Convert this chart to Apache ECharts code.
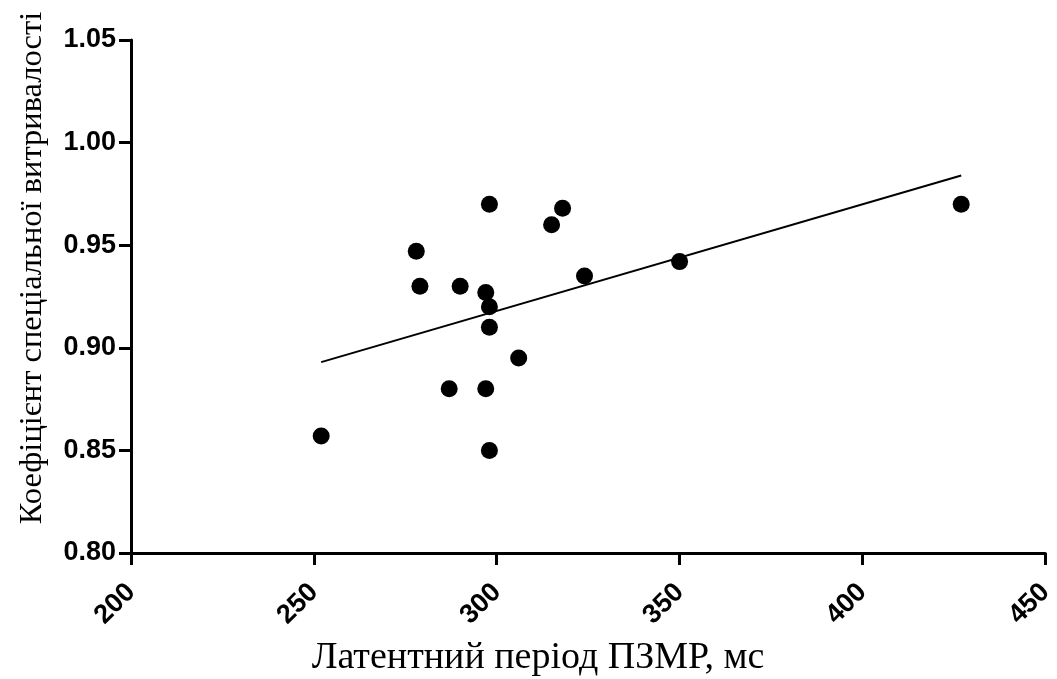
<!DOCTYPE html>
<html>
<head>
<meta charset="utf-8">
<script src="https://cdn.jsdelivr.net/npm/echarts@6/dist/echarts.min.js"></script>
<style>html,body{margin:0;padding:0;background:#fff}#c{width:1057px;height:679px}</style>
</head>
<body>
<div id="c"></div>
<script>
const xTitle = 'Латентний період ПЗМР, мс';
const yTitle = 'Коефіцієнт спеціальної витривалості';
const latency = [252, 278, 279, 290, 287, 297, 297, 298, 298, 298, 298, 306, 315, 318, 324, 350, 427];
const coeff   = [0.857, 0.947, 0.930, 0.930, 0.880, 0.927, 0.880, 0.920, 0.910, 0.970, 0.850, 0.895, 0.960, 0.968, 0.935, 0.942, 0.970];
const fitX = [252, 427];
const fitY = [0.893, 0.984];
const xTicks = [200, 250, 300, 350, 400, 450];
const yTicks = [0.80, 0.85, 0.90, 0.95, 1.00, 1.05];

const pts = latency.map((x, i) => [x, coeff[i]]);
const fit = fitX.map((x, i) => [x, fitY[i]]);

const chart = echarts.init(document.getElementById('c'));
const tickFont = {fontFamily: 'Liberation Sans', fontWeight: 'bold', fontSize: 27, color: '#000'};
chart.setOption({
  animation: false,
  backgroundColor: '#fff',
  grid: {left: 131, right: 8, top: 40, bottom: 126},
  xAxis: {
    type: 'value', min: xTicks[0], max: xTicks[xTicks.length - 1], interval: 50,
    splitLine: {show: false},
    axisLine: {show: true, onZero: false, lineStyle: {color: '#000', width: 3}},
    axisTick: {show: true, length: 12, lineStyle: {color: '#000', width: 3}},
    axisLabel: Object.assign({rotate: 45, margin: 35, formatter: v => String(v)}, tickFont)
  },
  yAxis: {
    type: 'value', min: yTicks[0], max: yTicks[yTicks.length - 1], interval: 0.05,
    splitLine: {show: false},
    axisLine: {show: true, onZero: false, lineStyle: {color: '#000', width: 3}},
    axisTick: {show: true, length: 12, lineStyle: {color: '#000', width: 3}},
    axisLabel: Object.assign({margin: 15, formatter: v => v.toFixed(2)}, tickFont)
  },
  graphic: [
    {type: 'text', x: 538, y: 658,
     style: {text: xTitle, fontFamily: 'Liberation Serif', fontSize: 38, fill: '#000', textAlign: 'center', textVerticalAlign: 'middle'}},
    {type: 'text', x: 32, y: 268, rotation: Math.PI / 2,
     style: {text: yTitle, fontFamily: 'Liberation Serif', fontSize: 32.5, fill: '#000', textAlign: 'center', textVerticalAlign: 'middle'}}
  ],
  series: [
    {type: 'line', data: fit, symbol: 'none', lineStyle: {color: '#000', width: 2}, z: 2},
    {type: 'scatter', data: pts, symbol: 'circle', symbolSize: 17, itemStyle: {color: '#000', opacity: 1}, z: 3}
  ]
});
</script>
</body>
</html>
